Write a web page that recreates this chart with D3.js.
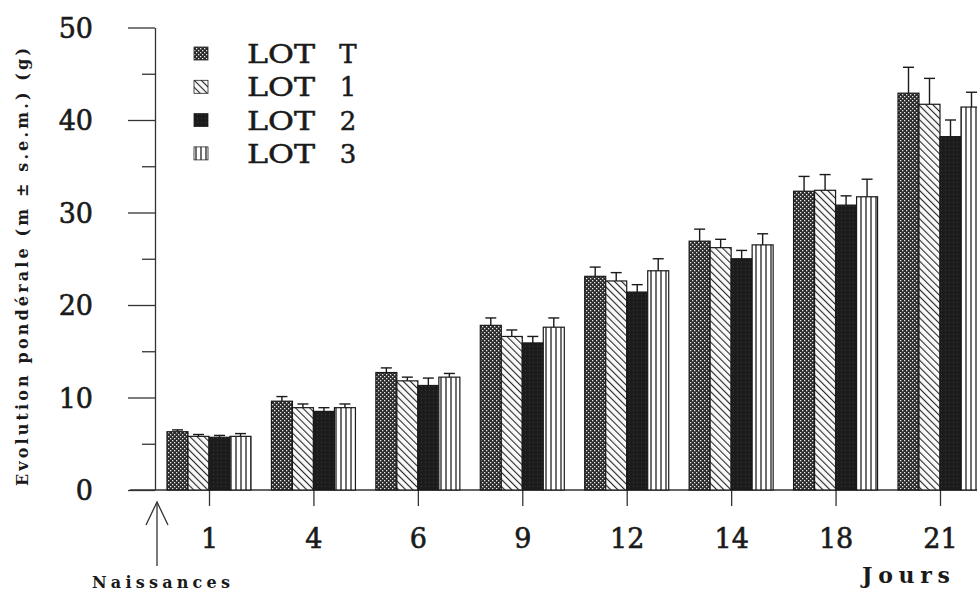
<!DOCTYPE html>
<meta charset="utf-8">
<script src="https://d3js.org/d3.v7.min.js"></script>
<style>
  body { margin: 0; background: #fff; }
  text { font-family: "DejaVu Serif", "Liberation Serif", serif; fill: #1a1a1a; }
</style>
<div id="chart"></div>
<script>
// data (grammes, mean and upper s.e.m.)
var days = ["1", "4", "6", "9", "12", "14", "18", "21"];
var lots = ["T", "1", "2", "3"];
var lotT = [6.3, 9.6, 12.7, 17.8, 23.1, 26.9, 32.3, 42.9];
var lot1 = [5.8, 8.9, 11.8, 16.6, 22.6, 26.2, 32.4, 41.7];
var lot2 = [5.7, 8.5, 11.3, 15.9, 21.4, 25.0, 30.8, 38.2];
var lot3 = [5.8, 8.9, 12.2, 17.6, 23.7, 26.5, 31.7, 41.4];
var semT = [0.2, 0.5, 0.5, 0.8, 1.0, 1.3, 1.6, 2.8];
var sem1 = [0.2, 0.4, 0.4, 0.7, 0.9, 0.9, 1.7, 2.8];
var sem2 = [0.2, 0.4, 0.8, 0.7, 0.8, 0.9, 1.0, 1.8];
var sem3 = [0.3, 0.4, 0.4, 1.0, 1.3, 1.2, 1.9, 1.6];
var yTicks = [0, 10, 20, 30, 40, 50];
var yMinor = [5, 15, 25, 35, 45];

var means = [lotT, lot1, lot2, lot3];
var sems = [semT, sem1, sem2, sem3];

var W = 977, H = 594;
var svg = d3.select("#chart").append("svg")
    .attr("width", W).attr("height", H);

// patterns for the four lots
var defs = svg.append("defs");
var pT = defs.append("pattern").attr("id", "patT").attr("patternUnits", "userSpaceOnUse")
    .attr("width", 4).attr("height", 4);
pT.append("rect").attr("width", 4).attr("height", 4).attr("fill", "#2b2b2b");
pT.append("rect").attr("x", 0).attr("y", 0).attr("width", 1.3).attr("height", 1.3).attr("fill", "#e8e8e8");
pT.append("rect").attr("x", 2).attr("y", 2).attr("width", 1.3).attr("height", 1.3).attr("fill", "#e8e8e8");

var p1 = defs.append("pattern").attr("id", "pat1").attr("patternUnits", "userSpaceOnUse")
    .attr("width", 5).attr("height", 5).attr("patternTransform", "rotate(-45)");
p1.append("rect").attr("width", 5).attr("height", 5).attr("fill", "#fafafa");
p1.append("line").attr("x1", 0).attr("y1", 0).attr("x2", 0).attr("y2", 5)
    .attr("stroke", "#2a2a2a").attr("stroke-width", 2.2);

var p2 = defs.append("pattern").attr("id", "pat2").attr("patternUnits", "userSpaceOnUse")
    .attr("width", 4).attr("height", 4);
p2.append("rect").attr("width", 4).attr("height", 4).attr("fill", "#1c1c1c");
p2.append("rect").attr("x", 1).attr("y", 2).attr("width", 1).attr("height", 1).attr("fill", "#3a3a3a");

var p3 = defs.append("pattern").attr("id", "pat3").attr("patternUnits", "userSpaceOnUse")
    .attr("width", 5).attr("height", 5);
p3.append("rect").attr("width", 5).attr("height", 5).attr("fill", "#fff");
p3.append("line").attr("x1", 1).attr("y1", 0).attr("x2", 1).attr("y2", 5)
    .attr("stroke", "#222").attr("stroke-width", 1.3);

var fills = ["url(#patT)", "url(#pat1)", "url(#pat2)", "url(#pat3)"];

// scales
var y = d3.scaleLinear().domain([0, 50]).range([490, 27.5]);
var x = d3.scalePoint().domain(days).range([209, 940]);
var xSub = d3.scaleBand().domain(lots).range([-42, 42]);

// y axis: major + minor ticks
svg.append("g")
    .attr("transform", "translate(155,0)")
    .call(d3.axisLeft(y).tickValues(yTicks).tickSize(27).tickSizeOuter(0).tickPadding(35))
    .call(function(g) {
      g.selectAll("text").style("font-size", "27px").attr("dy", "0.36em")
        .attr("stroke", "#1a1a1a").attr("stroke-width", 0.6);
      g.selectAll("line, path").attr("stroke", "#333").attr("stroke-width", 1.3);
    });
svg.append("g")
    .attr("transform", "translate(155,0)")
    .call(d3.axisLeft(y).tickValues(yMinor).tickSize(13).tickFormat(""))
    .call(function(g) {
      g.select(".domain").remove();
      g.selectAll("line").attr("stroke", "#333").attr("stroke-width", 1.3);
    });

// x axis
svg.append("line")
    .attr("x1", 130).attr("x2", W).attr("y1", y(0)).attr("y2", y(0))
    .attr("stroke", "#333").attr("stroke-width", 1.3);
svg.append("g")
    .attr("transform", "translate(0," + y(0) + ")")
    .call(d3.axisBottom(x).tickSize(16).tickSizeOuter(0).tickPadding(23))
    .call(function(g) {
      g.select(".domain").remove();
      g.selectAll("line").attr("stroke", "#333").attr("stroke-width", 1.3);
      g.selectAll("text").style("font-size", "27px")
        .attr("stroke", "#1a1a1a").attr("stroke-width", 0.6);
    });

// bars
var rows = [];
days.forEach(function(d, i) {
  lots.forEach(function(l, j) {
    rows.push({day: d, lot: l, j: j, v: means[j][i], e: sems[j][i]});
  });
});

var bars = svg.append("g");
bars.selectAll("rect")
  .data(rows)
  .enter()
  .append("rect")
    .attr("x", function(d) { return x(d.day) + xSub(d.lot); })
    .attr("y", function(d) { return y(d.v); })
    .attr("width", xSub.bandwidth())
    .attr("height", function(d) { return y(0) - y(d.v); })
    .attr("fill", function(d) { return fills[d.j]; })
    .attr("stroke", "#1a1a1a")
    .attr("stroke-width", 1.2);

// error bars (upper only)
var err = svg.append("g").attr("stroke", "#1a1a1a").attr("stroke-width", 1.4);
err.selectAll(".ev")
  .data(rows)
  .enter()
  .append("line")
    .attr("x1", function(d) { return x(d.day) + xSub(d.lot) + xSub.bandwidth() / 2; })
    .attr("x2", function(d) { return x(d.day) + xSub(d.lot) + xSub.bandwidth() / 2; })
    .attr("y1", function(d) { return y(d.v); })
    .attr("y2", function(d) { return y(d.v + d.e); });
err.selectAll(".cap")
  .data(rows)
  .enter()
  .append("line")
    .attr("x1", function(d) { return x(d.day) + xSub(d.lot) + xSub.bandwidth() / 2 - 5.5; })
    .attr("x2", function(d) { return x(d.day) + xSub(d.lot) + xSub.bandwidth() / 2 + 5.5; })
    .attr("y1", function(d) { return y(d.v + d.e); })
    .attr("y2", function(d) { return y(d.v + d.e); });

// legend
var leg = svg.append("g");
lots.forEach(function(l, j) {
  var by = 63 + j * 33.3;
  leg.append("rect")
      .attr("x", 194).attr("y", by - 16).attr("width", 14).attr("height", 13)
      .attr("fill", fills[j]).attr("stroke", "#222").attr("stroke-width", 0.8);
  leg.append("text").attr("x", 247).attr("y", by)
      .attr("textLength", 68).attr("lengthAdjust", "spacingAndGlyphs")
      .attr("stroke", "#1a1a1a").attr("stroke-width", 0.5)
      .style("font-size", "26px").text("LOT");
  leg.append("text").attr("x", 348).attr("y", by).attr("text-anchor", "middle")
      .attr("stroke", "#1a1a1a").attr("stroke-width", 0.5)
      .style("font-size", "26px").text(l);
});

// axis titles
svg.append("text")
    .attr("transform", "translate(28,267) rotate(-90)")
    .attr("text-anchor", "middle")
    .attr("textLength", 438).attr("lengthAdjust", "spacing")
    .style("font-size", "16px").style("font-weight", "bold")
    .text("Evolution pondérale (m ± s.e.m.) (g)");

svg.append("text")
    .attr("x", 92).attr("y", 588)
    .attr("textLength", 138).attr("lengthAdjust", "spacing")
    .style("font-size", "16px").style("font-weight", "bold")
    .text("Naissances");

svg.append("text")
    .attr("x", 862).attr("y", 583)
    .attr("textLength", 88).attr("lengthAdjust", "spacing")
    .style("font-size", "22px").style("font-weight", "bold")
    .text("Jours");

// birth arrow
var arrow = svg.append("g").attr("stroke", "#333").attr("stroke-width", 1.3).attr("fill", "none");
arrow.append("line").attr("x1", 157).attr("x2", 157).attr("y1", 502).attr("y2", 566);
arrow.append("polyline").attr("points", "146,525 157,502 168,525");
</script>
